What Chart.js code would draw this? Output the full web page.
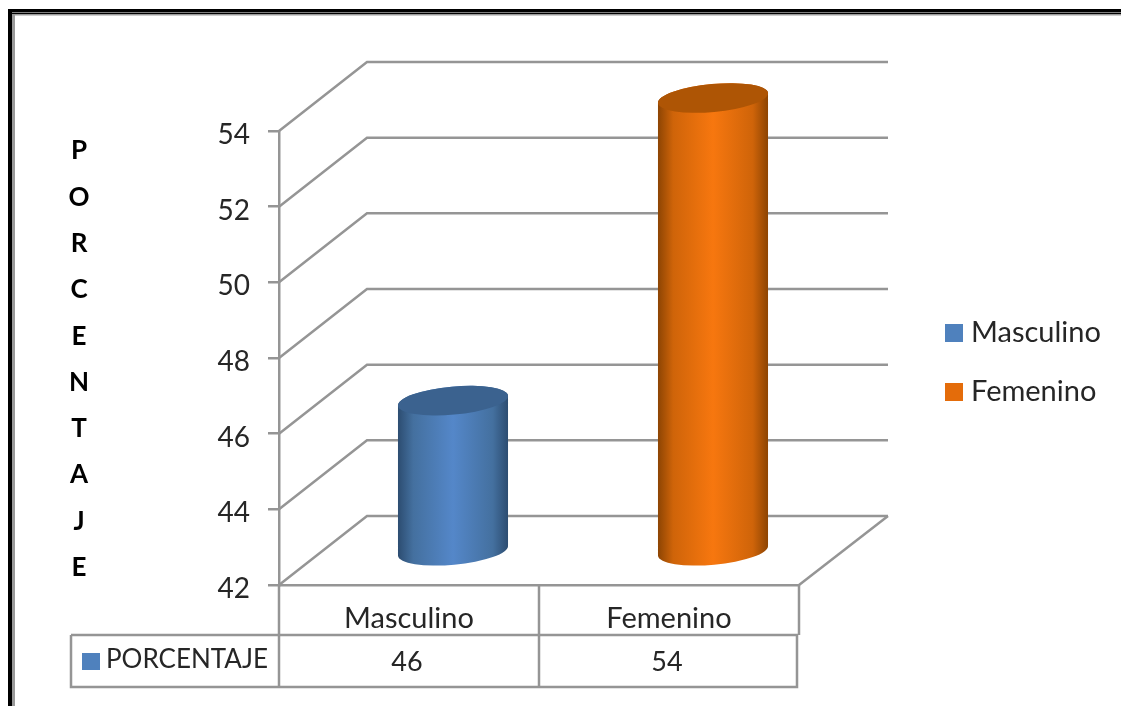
<!DOCTYPE html>
<html>
<head>
<meta charset="utf-8">
<title>Porcentaje</title>
<script src="https://cdn.jsdelivr.net/npm/chart.js@4"></script>
<style>
  html, body { margin: 0; padding: 0; background: #fff; overflow: hidden; }
  canvas { display: block; filter: blur(0.4px); }
</style>
</head>
<body>
<canvas id="grafico" width="1121" height="706"></canvas>
<script>
// Data
const categories = ['Masculino', 'Femenino'];
const porcentaje = [46, 54];
const seriesName = 'PORCENTAJE';
const axisTitle = ['P', 'O', 'R', 'C', 'E', 'N', 'T', 'A', 'J', 'E'];
const yMin = 42;
const yMax = 54;
const yStep = 2;

// Colours per category: swatch, top of cylinder, dark edge, side, light centre
const swatchColors = ['#4f81bd', '#e46c0a'];
const topColors = ['#3b628f', '#ae5505'];
const edgeColors = ['#2c4c70', '#8c4403'];
const sideColors = ['#44709f', '#cf6409'];
const midColors = ['#5487c9', '#f7770f'];

const lineColor = '#959595';
const textColor = '#262626';
const fontName = 'Lato, "Open Sans", sans-serif';

// 3D look: how far the back wall sits from the front plane
const depthX = 88;
const depthY = -69;
const barShiftX = 44;
const barShiftY = -33;

function segment(ctx, points) {
    ctx.beginPath();
    ctx.moveTo(points[0][0], points[0][1]);
    for (let i = 1; i < points.length; i++) ctx.lineTo(points[i][0], points[i][1]);
    ctx.stroke();
}

// Walls and floor, behind the cylinders
const wallsPlugin = {
    id: 'walls',
    beforeDatasetsDraw(chart) {
        const ctx = chart.ctx;
        const a = chart.chartArea;
        const y = chart.scales.y;
        ctx.save();
        ctx.strokeStyle = lineColor;
        ctx.lineWidth = 2.5;
        y.ticks.forEach(t => {
            const py = y.getPixelForValue(t.value);
            segment(ctx, [[a.left, py], [a.left + depthX, py + depthY], [a.right + depthX + 1, py + depthY]]);
        });
        segment(ctx, [[a.right, a.bottom], [a.right + depthX + 1, a.bottom + depthY]]);
        ctx.restore();
    }
};

// Each bar element gives the place and size of one cylinder
const cylinderPlugin = {
    id: 'cylinders',
    afterDatasetsDraw(chart) {
        const ctx = chart.ctx;
        const rot = -5.2 * Math.PI / 180;
        chart.getDatasetMeta(0).data.forEach((bar, i) => {
            const cx = bar.x + barShiftX;
            const rx = bar.width / 2;
            const ry = 14;
            const top = bar.y + barShiftY;
            const bottom = bar.base + barShiftY;
            const g = ctx.createLinearGradient(cx - rx, 0, cx + rx, 0);
            g.addColorStop(0, edgeColors[i]);
            g.addColorStop(0.14, sideColors[i]);
            g.addColorStop(0.5, midColors[i]);
            g.addColorStop(0.86, sideColors[i]);
            g.addColorStop(1, edgeColors[i]);
            ctx.save();
            ctx.fillStyle = g;
            ctx.beginPath();
            ctx.ellipse(cx, bottom, rx, ry, rot, Math.PI, 0, true);
            ctx.ellipse(cx, top, rx, ry, rot, 0, Math.PI, true);
            ctx.closePath();
            ctx.fill();
            ctx.fillStyle = topColors[i];
            ctx.beginPath();
            ctx.ellipse(cx, top, rx, ry, rot, 0, Math.PI * 2);
            ctx.fill();
            ctx.restore();
        });
    }
};

// Data table under the axis, vertical title, legend and the page frame
const extrasPlugin = {
    id: 'extras',
    afterDraw(chart) {
        const ctx = chart.ctx;
        const a = chart.chartArea;
        const x = chart.scales.x;
        const y = chart.scales.y;
        const rowTop = a.bottom + 50;
        const rowBottom = rowTop + 52;
        const tableLeft = 71;
        const mid = (a.left + a.right) / 2;

        ctx.save();
        ctx.strokeStyle = lineColor;
        ctx.lineWidth = 2.5;
        segment(ctx, [[a.left, a.bottom], [a.left, rowBottom]]);
        segment(ctx, [[mid, a.bottom], [mid, rowBottom]]);
        segment(ctx, [[a.right, a.bottom], [a.right, rowTop]]);
        segment(ctx, [[tableLeft, rowTop], [a.right - 2, rowTop], [a.right - 2, rowBottom], [tableLeft, rowBottom], [tableLeft, rowTop]]);

        ctx.fillStyle = textColor;
        ctx.textBaseline = 'middle';

        // Value labels sit a little under their tick marks
        ctx.font = '28px ' + fontName;
        ctx.textAlign = 'right';
        y.ticks.forEach(t => {
            ctx.fillText(t.label, 250, y.getPixelForValue(t.value) + 4);
        });

        ctx.font = '27px ' + fontName;
        ctx.textAlign = 'center';
        porcentaje.forEach((v, i) => {
            ctx.fillText(String(v), x.getPixelForValue(i) - 2, rowTop + 27);
        });
        ctx.font = '26px ' + fontName;
        ctx.textAlign = 'left';
        ctx.fillText(seriesName, 106, rowTop + 25);
        ctx.fillStyle = swatchColors[0];
        ctx.fillRect(82, rowTop + 18, 18, 17);

        // Legend on the right
        ctx.font = '29px ' + fontName;
        categories.forEach((c, i) => {
            const ly = 333 + i * 59;
            ctx.fillStyle = swatchColors[i];
            ctx.fillRect(945, ly - 9, 18, 18);
            ctx.fillStyle = textColor;
            ctx.fillText(c, 971, ly);
        });

        // Vertical axis title, one letter per line
        ctx.font = 'bold 26px ' + fontName;
        ctx.fillStyle = '#000';
        ctx.textAlign = 'center';
        axisTitle.forEach((letter, i) => {
            ctx.fillText(letter, 79, 151 + i * 46.3);
        });

        // Frame of the page, running off the right and bottom
        ctx.fillStyle = '#000';
        ctx.fillRect(8, 9, 1113, 3);
        ctx.fillRect(8, 12.5, 1113, 2);
        ctx.fillRect(8, 9, 4, 697);
        ctx.fillStyle = '#9a9a9a';
        ctx.fillRect(12, 14, 1109, 1.5);
        ctx.fillRect(12, 14, 3, 692);
        ctx.restore();
    }
};

new Chart(document.getElementById('grafico'), {
    type: 'bar',
    data: {
        labels: categories,
        datasets: [{
            label: seriesName,
            data: porcentaje,
            base: yMin,
            backgroundColor: 'transparent',
            borderWidth: 0,
            categoryPercentage: 1,
            barPercentage: 0.425
        }]
    },
    plugins: [wallsPlugin, cylinderPlugin, extrasPlugin],
    options: {
        responsive: false,
        animation: false,
        devicePixelRatio: 1,
        layout: { padding: { left: 219, top: 131, right: 322, bottom: 21 } },
        plugins: { legend: { display: false }, tooltip: { enabled: false } },
        scales: {
            x: {
                grid: { display: false },
                border: { color: lineColor, width: 2.5 },
                ticks: { color: textColor, font: { family: fontName, size: 29 }, padding: 8, maxRotation: 0 },
                afterFit(scale) { scale.height = 100; }
            },
            y: {
                min: yMin,
                max: yMax,
                grid: { drawOnChartArea: false, color: lineColor, lineWidth: 2.5, tickLength: 11 },
                border: { color: lineColor, width: 2.5 },
                ticks: { stepSize: yStep, color: 'transparent', font: { family: fontName, size: 28 }, padding: 17 },
                afterFit(scale) { scale.width = 60; }
            }
        }
    }
});
</script>
</body>
</html>
